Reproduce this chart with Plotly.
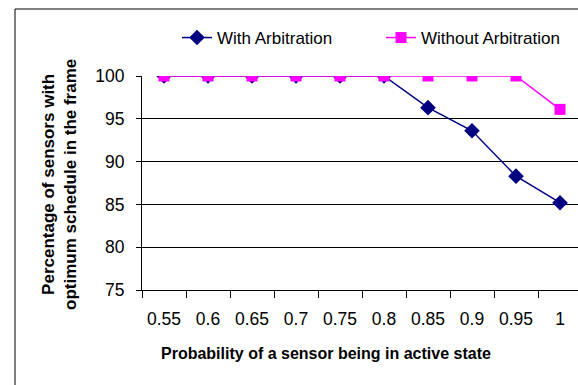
import plotly.graph_objects as go

# Probability of a sensor being in active state (category labels)
prob_labels = ["0.55", "0.6", "0.65", "0.7", "0.75", "0.8", "0.85", "0.9", "0.95", "1"]

# Percentage of sensors with optimum schedule in the frame
with_arbitration = [100, 100, 100, 100, 100, 100, 96.3, 93.6, 88.3, 85.2]
without_arbitration = [100, 100, 100, 100, 100, 100, 100, 100, 100, 96.1]

y_ticks = [75, 80, 85, 90, 95, 100]

W, H = 578, 385
L, R, T, B = 142, 0, 76, 95
plot_w = W - L - R
plot_h = H - T - B

FONT = "Arial, Liberation Sans, sans-serif"


def px_to_paper_x(px):
    return (px - L) / plot_w


def px_to_paper_y(py):
    return (H - B - py) / plot_h


fig = go.Figure()
fig.add_trace(go.Scatter(
    x=prob_labels, y=with_arbitration, name="With Arbitration",
    mode="lines+markers",
    line=dict(color="#000080", width=1.5),
    marker=dict(symbol="diamond", size=12, color="#000080"),
    legend="legend",
))
fig.add_trace(go.Scatter(
    x=prob_labels, y=without_arbitration, name="Without Arbitration",
    mode="lines+markers",
    line=dict(color="#FF00FF", width=1.5),
    marker=dict(symbol="square", size=11, color="#FF00FF"),
    legend="legend2",
))

# outer chart frame (open to the right and bottom)
fig.add_shape(type="rect", xref="paper", yref="paper",
              x0=px_to_paper_x(15), x1=px_to_paper_x(W + 20),
              y0=px_to_paper_y(H + 20), y1=px_to_paper_y(9),
              line=dict(color="#000000", width=1), fillcolor="rgba(0,0,0,0)",
              layer="below")

# two-line rotated y-axis title
fig.add_annotation(
    xref="paper", yref="paper",
    x=px_to_paper_x(59), y=px_to_paper_y(185),
    text="<b>Percentage of sensors with<br>optimum schedule in the frame</b>",
    textangle=-90, showarrow=False,
    font=dict(family=FONT, size=17, color="#000000"),
    xanchor="center", yanchor="middle",
)
# x-axis title
fig.add_annotation(
    xref="paper", yref="paper",
    x=px_to_paper_x(326), y=px_to_paper_y(353),
    text="<b>Probability of a sensor being in active state</b>",
    showarrow=False,
    font=dict(family=FONT, size=16, color="#000000"),
    xanchor="center", yanchor="middle",
)

legend_common = dict(
    orientation="h", xanchor="left", yanchor="top",
    font=dict(family=FONT, size=17, color="#000000"),
    bgcolor="rgba(0,0,0,0)",
)

fig.update_layout(
    width=W, height=H,
    margin=dict(l=L, r=R, t=T, b=B, pad=0),
    paper_bgcolor="white", plot_bgcolor="white",
    font=dict(family=FONT, size=17, color="#000000"),
    showlegend=True,
    legend=dict(x=px_to_paper_x(177), y=px_to_paper_y(20), **legend_common),
    legend2=dict(x=px_to_paper_x(381), y=px_to_paper_y(20), **legend_common),
    xaxis=dict(
        type="category",
        range=[-0.5, -0.5 + plot_w / 44.0],
        tickson="boundaries",
        ticks="outside", ticklen=7, tickcolor="#000000", tickwidth=1,
        showline=True, linecolor="#000000", linewidth=1,
        showgrid=False, zeroline=False,
        tickfont=dict(family=FONT, size=17.5, color="#000000"),
        ticklabelstandoff=13,
    ),
    yaxis=dict(
        range=[75, 100],
        tickvals=y_ticks,
        ticks="outside", ticklen=5, tickcolor="#000000", tickwidth=1,
        showline=True, linecolor="#000000", linewidth=1,
        showgrid=True, gridcolor="#000000", gridwidth=1,
        zeroline=False,
        tickfont=dict(family=FONT, size=17.5, color="#000000"),
        ticklabelstandoff=8,
    ),
)

fig.write_html("out.html")
